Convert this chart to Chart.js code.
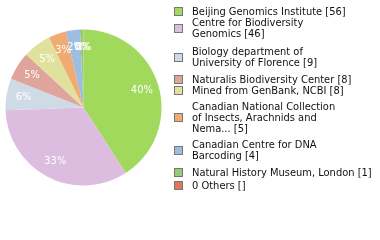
<!DOCTYPE html>
<html>
<head>
<meta charset="utf-8">
<script src="https://cdn.jsdelivr.net/npm/chart.js@4/dist/chart.umd.min.js"></script>
<style>
  html, body { margin: 0; padding: 0; background: #ffffff; }
  #wrap { position: relative; width: 380px; height: 240px; overflow: hidden; }
  #c { position: absolute; left: 0; top: 0; }
  .item { position: absolute; left: 174px; display: flex; align-items: center;
          font-family: "DejaVu Sans Condensed", "DejaVu Sans", sans-serif; font-size: 11px;
          line-height: 11px; color: #111; }
  .sw { width: 7px; height: 7px; border: 1px solid #777; flex: none; margin-right: 9px; }
</style>
</head>
<body>
<div id="wrap">
  <canvas id="c" width="380" height="240"></canvas>
</div>
<script>
const categories = [
  "Beijing Genomics Institute",
  "Centre for Biodiversity\nGenomics",
  "Biology department of\nUniversity of Florence",
  "Naturalis Biodiversity Center",
  "Mined from GenBank, NCBI",
  "Canadian National Collection\nof Insects, Arachnids and\nNema...",
  "Canadian Centre for DNA\nBarcoding",
  "Natural History Museum, London",
  "0 Others"
];
const counts = [56, 46, 9, 8, 8, 5, 4, 1, 0];
const countLabels = ["56", "46", "9", "8", "8", "5", "4", "1", ""];
const colors = ["#a0d95c", "#dcbde0", "#cedbe6", "#dfa59c", "#dfe19d", "#f1aa6f", "#9dbde1", "#9bc97a", "#e07657"];
const legendRowCenters = [11, 28, 57, 79, 90, 117, 150, 172, 185];

const total = counts.reduce((a, b) => a + b, 0);

// legend
const wrap = document.getElementById('wrap');
categories.forEach((name, i) => {
  const lines = name.split('\n');
  lines[lines.length - 1] += ' [' + countLabels[i] + ']';
  const h = lines.length * 11;
  const d = document.createElement('div');
  d.className = 'item';
  d.style.top = (legendRowCenters[i] - h / 2) + 'px';
  const sw = document.createElement('div');
  sw.className = 'sw';
  sw.style.background = colors[i];
  const t = document.createElement('div');
  t.innerHTML = lines.map(l => l.replace(/&/g,'&amp;').replace(/</g,'&lt;')).join('<br>');
  d.appendChild(sw); d.appendChild(t);
  wrap.appendChild(d);
});

const pctLabels = {
  id: 'pctLabels',
  afterDatasetsDraw(chart) {
    const ctx = chart.ctx;
    const meta = chart.getDatasetMeta(0);
    ctx.save();
    ctx.fillStyle = '#ffffff';
    ctx.font = '11px "DejaVu Sans Condensed", "DejaVu Sans", sans-serif';
    ctx.textAlign = 'center';
    ctx.textBaseline = 'middle';
    meta.data.forEach((arc, i) => {
      const p = arc.getProps(['x', 'y', 'startAngle', 'endAngle', 'outerRadius'], true);
      const mid = (p.startAngle + p.endAngle) / 2;
      const r = p.outerRadius * 0.78;
      const pct = Math.floor(counts[i] / total * 100);
      ctx.fillText(pct + '%', p.x + Math.cos(mid) * r, p.y + Math.sin(mid) * r);
    });
    ctx.restore();
  }
};

new Chart(document.getElementById('c'), {
  type: 'pie',
  data: {
    labels: categories,
    datasets: [{ data: counts, backgroundColor: colors, borderWidth: 0 }]
  },
  options: {
    responsive: false,
    animation: false,
    layout: { padding: { left: 5, right: 218, top: 29.5, bottom: 54.5 } },
    plugins: { legend: { display: false }, tooltip: { enabled: false } }
  },
  plugins: [pctLabels]
});
</script>
</body>
</html>
